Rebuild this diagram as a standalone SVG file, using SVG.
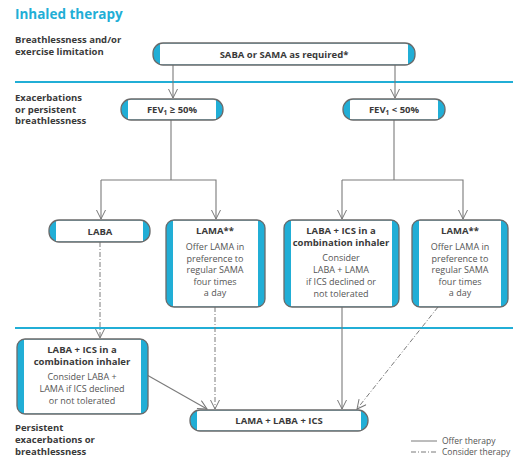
<svg xmlns="http://www.w3.org/2000/svg" width="513" height="459" viewBox="0 0 513 459">
<defs>
<marker id="arr" markerUnits="userSpaceOnUse" markerWidth="12" markerHeight="10" refX="10" refY="5" orient="auto">
<path d="M1,0.5 L10,5 L1,9.5" fill="none" stroke="#777" stroke-width="1"/>
</marker>
</defs>
<style>
.cap{fill:#21aed6}
.in{fill:#fff}
.ol{fill:none;stroke:#6a6a6a;stroke-width:1.3}
.t{font-family:"Open Sans","Liberation Sans",sans-serif;fill:#3a3a3a;text-anchor:middle}
.b{font-weight:bold;font-size:9.5px}
.r{font-size:9px;fill:#555}
.lab{font-family:"Open Sans","Liberation Sans",sans-serif;font-weight:bold;font-size:9.5px;fill:#3a3a3a}
.sep{stroke:#21aed6;stroke-width:2}
.s{fill:none;stroke:#7a7a7a;stroke-width:1.1}
.d{fill:none;stroke:#7a7a7a;stroke-width:1;stroke-dasharray:5 2 1 2}
</style>
<rect width="513" height="459" fill="#fff"/>
<text x="15" y="19" font-family="'Open Sans','Liberation Sans',sans-serif" font-weight="bold" font-size="13.5" fill="#21aed6">Inhaled therapy</text>
<text class="lab" x="15" y="42.5">Breathlessness and/or</text>
<text class="lab" x="15" y="54.5">exercise limitation</text>
<text class="lab" x="15" y="101">Exacerbations</text>
<text class="lab" x="15" y="112.5">or persistent</text>
<text class="lab" x="15" y="124">breathlessness</text>
<text class="lab" x="15" y="431">Persistent</text>
<text class="lab" x="15" y="443">exacerbations or</text>
<text class="lab" x="15" y="455">breathlessness</text>
<line class="sep" x1="15" y1="82" x2="513" y2="82"/>
<line class="sep" x1="15" y1="328" x2="513" y2="328"/>
<g id="connectors">
<line class="s" x1="173" y1="65" x2="173" y2="98" marker-end="url(#arr)"/>
<line class="s" x1="395" y1="65" x2="395" y2="98" marker-end="url(#arr)"/>
<line class="s" x1="171" y1="120" x2="171" y2="180"/>
<polyline class="s" points="101,180 216,180 216,219" marker-end="url(#arr)"/>
<line class="s" x1="101" y1="180" x2="101" y2="219" marker-end="url(#arr)"/>
<line class="s" x1="394" y1="120" x2="394" y2="180"/>
<polyline class="s" points="342,180 463,180 463,219" marker-end="url(#arr)"/>
<line class="s" x1="342" y1="180" x2="342" y2="219" marker-end="url(#arr)"/>
<line class="d" x1="100" y1="242" x2="100" y2="338" marker-end="url(#arr)"/>
<line class="d" x1="215" y1="307" x2="215" y2="409" marker-end="url(#arr)"/>
<line class="d" x1="438" y1="307" x2="357" y2="409" marker-end="url(#arr)"/>
<line class="s" x1="342" y1="307" x2="342" y2="409" marker-end="url(#arr)"/>
<line class="s" x1="147" y1="375" x2="207" y2="409" marker-end="url(#arr)"/>
</g>
<g id="saba">
<rect class="cap" x="153" y="43" width="262" height="22" rx="10"/>
<rect class="in" x="160" y="43.5" width="248" height="21"/>
<rect class="ol" x="153" y="43" width="262" height="22" rx="10"/>
<text class="t b" x="284" y="58">SABA or SAMA as required*</text>
</g>
<g id="fev-ge">
<rect class="cap" x="121" y="99" width="102" height="21" rx="10"/>
<rect class="in" x="128" y="99.5" width="88" height="20"/>
<rect class="ol" x="121" y="99" width="102" height="21" rx="10"/>
<text class="t b" x="172" y="113">FEV<tspan font-size="6.5" dy="2">1</tspan><tspan dy="-2"> ≥ 50%</tspan></text>
</g>
<g id="fev-lt">
<rect class="cap" x="343" y="99" width="102" height="21" rx="10"/>
<rect class="in" x="350" y="99.5" width="88" height="20"/>
<rect class="ol" x="343" y="99" width="102" height="21" rx="10"/>
<text class="t b" x="394" y="113">FEV<tspan font-size="6.5" dy="2">1</tspan><tspan dy="-2"> &lt; 50%</tspan></text>
</g>
<g id="laba">
<rect class="cap" x="49" y="220" width="101" height="22" rx="10"/>
<rect class="in" x="56" y="220.5" width="87" height="21"/>
<rect class="ol" x="49" y="220" width="101" height="22" rx="10"/>
<text class="t b" x="100" y="235">LABA</text>
</g>
<g id="lama-left">
<rect class="cap" x="166" y="220" width="99" height="87" rx="8"/>
<rect class="in" x="173" y="220.5" width="85" height="86"/>
<rect class="ol" x="166" y="220" width="99" height="87" rx="8"/>
<text class="t b" x="215" y="234">LAMA**</text>
<text class="t r" x="215" y="250">Offer LAMA in</text>
<text class="t r" x="215" y="261.5">preference to</text>
<text class="t r" x="215" y="273">regular SAMA</text>
<text class="t r" x="215" y="284.5">four times</text>
<text class="t r" x="215" y="296">a day</text>
</g>
<g id="laba-ics-mid">
<rect class="cap" x="284" y="220" width="115" height="87" rx="8"/>
<rect class="in" x="291" y="220.5" width="101" height="86"/>
<rect class="ol" x="284" y="220" width="115" height="87" rx="8"/>
<text class="t b" x="341" y="234">LABA + ICS in a</text>
<text class="t b" x="341" y="246">combination inhaler</text>
<text class="t r" x="341" y="261">Consider</text>
<text class="t r" x="341" y="273">LABA + LAMA</text>
<text class="t r" x="341" y="285">if ICS declined or</text>
<text class="t r" x="341" y="297">not tolerated</text>
</g>
<g id="lama-right">
<rect class="cap" x="412" y="220" width="96" height="87" rx="8"/>
<rect class="in" x="419" y="220.5" width="82" height="86"/>
<rect class="ol" x="412" y="220" width="96" height="87" rx="8"/>
<text class="t b" x="460" y="234">LAMA**</text>
<text class="t r" x="460" y="250">Offer LAMA in</text>
<text class="t r" x="460" y="261.5">preference to</text>
<text class="t r" x="460" y="273">regular SAMA</text>
<text class="t r" x="460" y="284.5">four times</text>
<text class="t r" x="460" y="296">a day</text>
</g>
<g id="laba-ics-bottom">
<rect class="cap" x="17" y="339" width="131" height="75" rx="8"/>
<rect class="in" x="24" y="339.5" width="117" height="74"/>
<rect class="ol" x="17" y="339" width="131" height="75" rx="8"/>
<text class="t b" x="82" y="353">LABA + ICS in a</text>
<text class="t b" x="82" y="365">combination inhaler</text>
<text class="t r" x="82" y="380">Consider LABA +</text>
<text class="t r" x="82" y="392">LAMA if ICS declined</text>
<text class="t r" x="82" y="404">or not tolerated</text>
</g>
<g id="lama-laba-ics">
<rect class="cap" x="190" y="410" width="178" height="21" rx="10"/>
<rect class="in" x="197" y="410.5" width="164" height="20"/>
<rect class="ol" x="190" y="410" width="178" height="21" rx="10"/>
<text class="t b" x="279" y="424">LAMA + LABA + ICS</text>
</g>
<g id="legend">
<line x1="411" y1="441" x2="437" y2="441" stroke="#7a7a7a" stroke-width="1"/>
<line x1="411" y1="452" x2="437" y2="452" stroke="#7a7a7a" stroke-width="1" stroke-dasharray="5 2 1 2"/>
<text x="442" y="444" font-family="'Open Sans','Liberation Sans',sans-serif" font-size="8.5" fill="#555">Offer therapy</text>
<text x="442" y="455" font-family="'Open Sans','Liberation Sans',sans-serif" font-size="8.5" fill="#555">Consider therapy</text>
</g>
</svg>
